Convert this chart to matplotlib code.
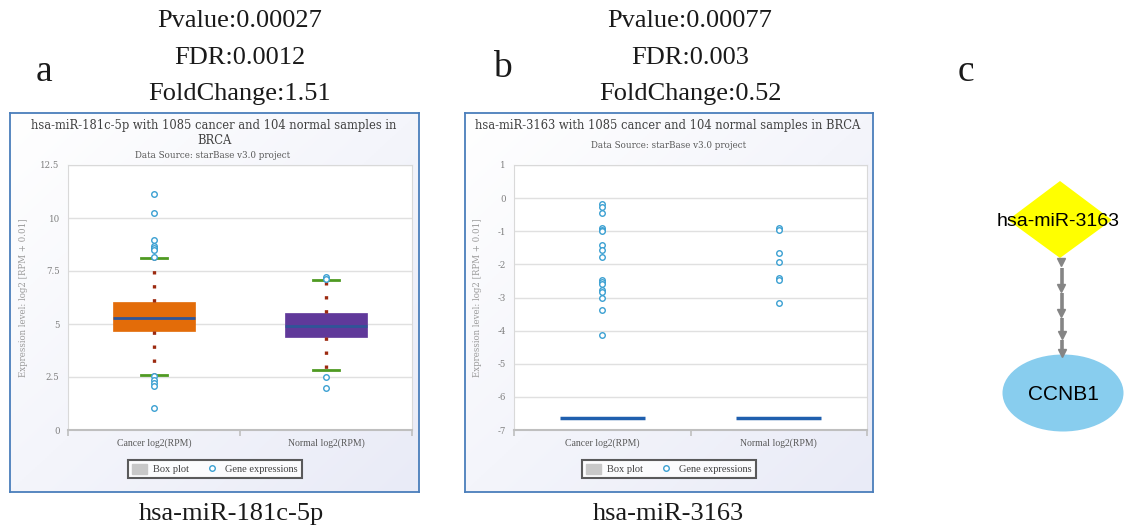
import numpy as np
import matplotlib
matplotlib.use("Agg")
import matplotlib.pyplot as plt
from matplotlib.patches import Patch, Polygon, Ellipse
from matplotlib.lines import Line2D
from matplotlib.colors import LinearSegmentedColormap

W, H = 1129, 531

# box statistics (log2 RPM) for each mirna
a_cancer_box = [2.6, 4.65, 5.3, 6.05, 8.1]      # whislo, q1, med, q3, whishi
a_normal_box = [2.85, 4.4, 4.92, 5.53, 7.08]
b_cancer_box = [-6.64, -6.64, -6.64, -6.64, -6.64]
b_normal_box = [-6.64, -6.64, -6.64, -6.64, -6.64]

# single samples shown as circles
a_cancer_pts = [11.13, 10.24, 8.96, 8.68, 8.6, 8.49, 8.18, 2.55, 2.36, 2.2, 2.07, 1.05]
a_normal_pts = [7.23, 7.12, 2.51, 2.0]
b_cancer_pts = [-0.18, -0.26, -0.46, -0.89, -0.95, -0.99, -1.42, -1.57, -1.77,
                -2.48, -2.53, -2.6, -2.78, -2.83, -3.03, -3.38, -4.12]
b_normal_pts = [-0.89, -0.95, -1.67, -1.92, -2.41, -2.46, -3.18]

groups = ["Cancer log2(RPM)", "Normal log2(RPM)"]
a_ticks = [0, 2.5, 5, 7.5, 10, 12.5]
a_ticklabels = ["0", "2.5", "5", "7.5", "10", "12.5"]
b_ticks = [1, 0, -1, -2, -3, -4, -5, -6, -7]

a_stats = ["Pvalue:0.00027", "FDR:0.0012", "FoldChange:1.51"]
b_stats = ["Pvalue:0.00077", "FDR:0.003", "FoldChange:0.52"]

SERIF = "Liberation Serif"
WIDE = "DejaVu Serif"


def rect(x0, y0, x1, y1):
    return [x0 / W, 1 - y1 / H, (x1 - x0) / W, (y1 - y0) / H]


def ftext(fig, x, y, s, **kw):
    fig.text(x / W, 1 - y / H, s, **kw)


def frame(fig, x0, y0, x1, y1):
    fa = fig.add_axes(rect(x0, y0, x1, y1), zorder=0)
    cmap = LinearSegmentedColormap.from_list("bg", ["#ffffff", "#e9ebf7"])
    gx, gy = np.meshgrid(np.linspace(0, 1, 200), np.linspace(0, 1, 200))
    fa.imshow(0.5 * gx + 0.5 * gy, cmap=cmap, extent=[0, 1, 0, 1], aspect="auto", origin="upper")
    fa.set_xticks([])
    fa.set_yticks([])
    for sp in fa.spines.values():
        sp.set_color("#4a7ebb")
        sp.set_linewidth(1.3)
    return fa


def stats_dict(v):
    return dict(whislo=v[0], q1=v[1], med=v[2], q3=v[3], whishi=v[4], fliers=[])


def box_panel(fig, box, ylim, ticks, ticklabels, boxes, pts, colors, collapsed=False):
    ax = fig.add_axes(rect(*box), zorder=2)
    ax.set_facecolor("white")
    st = [stats_dict(b) for b in boxes]
    if collapsed:
        ax.bxp(st, positions=[1, 2], widths=0.48, showcaps=False, patch_artist=True,
               boxprops=dict(linewidth=0, facecolor="none"),
               medianprops=dict(color="#1f5fae", linewidth=2.5, solid_capstyle="butt"),
               whiskerprops=dict(linewidth=0))
    else:
        bp = ax.bxp(st, positions=[1, 2], widths=0.48, capwidths=0.15, patch_artist=True,
                    boxprops=dict(linewidth=0.5),
                    medianprops=dict(color="#2f5597", linewidth=2, solid_capstyle="butt"),
                    whiskerprops=dict(color="#9c2a10", linewidth=2.4, linestyle=(0, (1, 3.2))),
                    capprops=dict(color="#4f9a22", linewidth=2))
        for patch, c in zip(bp["boxes"], colors):
            patch.set_facecolor(c)
            patch.set_edgecolor(c)
    for i, p in enumerate(pts):
        ax.plot([i + 1] * len(p), p, "o", ms=4, mfc="white", mec="#3ba0d2", mew=1, zorder=5)

    ax.set_xlim(0.5, 2.5)
    ax.set_ylim(*ylim)
    ax.set_yticks(ticks, ticklabels, fontsize=6.2, color="#7f7f7f", family=WIDE)
    ax.set_xticks([1, 2], groups, fontsize=7, color="#595959", family=SERIF)
    ax.set_xticks([0.5, 1.5, 2.5], minor=True)
    ax.tick_params(axis="both", which="major", length=0, pad=6)
    ax.tick_params(axis="x", which="minor", length=4, color="#bfbfbf", width=1.2)
    ax.grid(axis="y", color="#e0e0e0", linewidth=1)
    ax.set_axisbelow(True)
    for sp in ax.spines.values():
        sp.set_color("#d9d9d9")
    ax.spines["bottom"].set_color("#bfbfbf")
    ax.spines["bottom"].set_linewidth(1.5)
    ax.set_ylabel("Expression level: log2 [RPM + 0.01]", fontsize=6.2, color="#9a9a9a", family=WIDE)
    return ax


def add_legend(fa, cx, cy):
    handles = [Patch(facecolor="#c8c8c8", edgecolor="#c8c8c8"),
               Line2D([], [], marker="o", ls="none", ms=4, mfc="white", mec="#3ba0d2", mew=1)]
    leg = fa.legend(handles, ["Box plot", "Gene expressions"], ncol=2, loc="center",
                    bbox_to_anchor=(cx, cy), frameon=True, fancybox=False,
                    prop=dict(family=SERIF, size=7.5), handlelength=1.4, handleheight=1.1,
                    columnspacing=1.5, handletextpad=0.6, borderpad=0.4)
    leg.get_frame().set_edgecolor("#333333")
    leg.get_frame().set_linewidth(1.5)
    for t in leg.get_texts():
        t.set_color("#404040")


fig = plt.figure(figsize=(W / 100, H / 100), dpi=100)

# ---- panel a
fa = frame(fig, 10, 113, 419, 492)
ftext(fig, 214, 133, "hsa-miR-181c-5p with 1085 cancer and 104 normal samples in\nBRCA",
      ha="center", va="center", fontsize=8.3, color="#404040", family=WIDE, linespacing=1.15)
ftext(fig, 213, 156, "Data Source: starBase v3.0 project", ha="center", va="center",
      fontsize=6.3, color="#595959", family=WIDE)
ax_a = box_panel(fig, (68, 165, 412, 430), (0, 12.5), a_ticks, a_ticklabels,
                 [a_cancer_box, a_normal_box], [a_cancer_pts, a_normal_pts],
                 ["#e36c09", "#60399a"])
ax_a.yaxis.set_label_coords((28 - 68) / 344, 0.5)
add_legend(fa, (215 - 10) / 409, 1 - (469 - 113) / 379)

# ---- panel b
fb = frame(fig, 465, 113, 873, 492)
ftext(fig, 668, 126, "hsa-miR-3163 with 1085 cancer and 104 normal samples in BRCA",
      ha="center", va="center", fontsize=8.3, color="#404040", family=WIDE)
ftext(fig, 669, 145, "Data Source: starBase v3.0 project", ha="center", va="center",
      fontsize=6.3, color="#595959", family=WIDE)
ax_b = box_panel(fig, (514, 165, 867, 430), (-7, 1), b_ticks, [str(t) for t in b_ticks],
                 [b_cancer_box, b_normal_box], [b_cancer_pts, b_normal_pts],
                 None, collapsed=True)
ax_b.yaxis.set_label_coords((482 - 514) / 353, 0.5)
add_legend(fb, (669 - 465) / 408, 1 - (469 - 113) / 379)

# ---- header statistics and panel letters
for i, s in enumerate(a_stats):
    ftext(fig, 240, 21 + 36.5 * i, s, ha="center", va="center", fontsize=19, family=SERIF, color="#1a1a1a")
for i, s in enumerate(b_stats):
    ftext(fig, 690, 21 + 36.5 * i, s, ha="center", va="center", fontsize=19, family=SERIF, color="#1a1a1a")
ftext(fig, 44, 72, "a", ha="center", va="center", fontsize=27, family=SERIF, color="#1a1a1a")
ftext(fig, 502, 68, "b", ha="center", va="center", fontsize=27, family=SERIF, color="#1a1a1a")
ftext(fig, 966, 72, "c", ha="center", va="center", fontsize=27, family=SERIF, color="#1a1a1a")

ftext(fig, 231, 514, "hsa-miR-181c-5p", ha="center", va="center", fontsize=19, family=SERIF, color="#1a1a1a")
ftext(fig, 668, 514, "hsa-miR-3163", ha="center", va="center", fontsize=19, family=SERIF, color="#1a1a1a")

# ---- panel c: regulation diagram
ax_c = fig.add_axes(rect(940, 160, 1129, 440), zorder=3)
ax_c.set_xlim(940, 1129)
ax_c.set_ylim(440, 160)
ax_c.axis("off")
ax_c.add_patch(Polygon([(1060, 181), (1112, 220), (1060, 258), (1008, 220)],
                       closed=True, facecolor="#ffff00", edgecolor="none"))
ax_c.add_patch(Ellipse((1063, 393), 121, 77, facecolor="#88cdee", edgecolor="none"))
# dashed edge with repeated arrow heads
for y0, y1 in [(268, 284), (293, 309), (318, 331), (340, 352)]:
    ax_c.plot([1061.5, 1061.5], [y0, y1], color="#858585", lw=2.6, solid_capstyle="butt")
ax_c.plot([1061, 1061, 1061, 1062, 1062], [262, 288, 313, 335, 353], "v",
          color="#858585", ms=5.5)
ax_c.text(1058, 222, "hsa-miR-3163", ha="center", va="center", fontsize=14, family="Liberation Sans",
          color="black")
ax_c.text(1063, 394, "CCNB1", ha="center", va="center", fontsize=15, family="Liberation Sans",
          color="black")

fig.savefig("out.png", dpi=100)
